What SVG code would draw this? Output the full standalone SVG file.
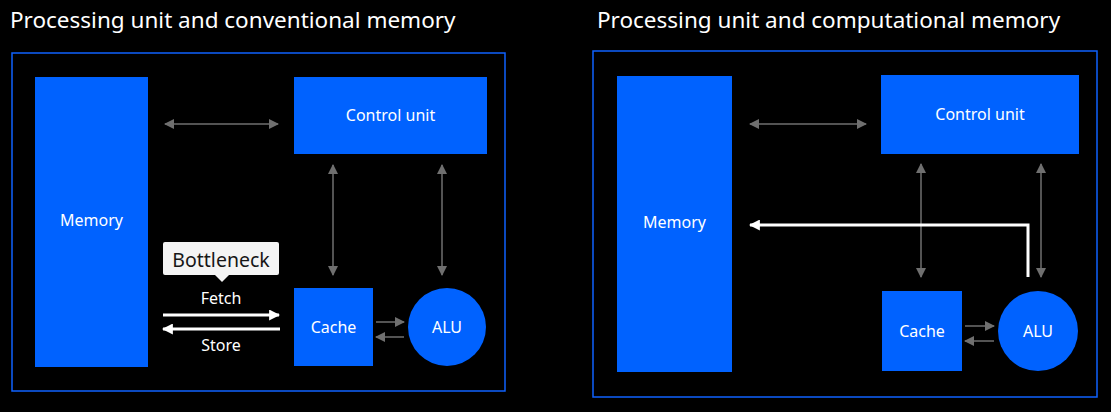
<svg xmlns="http://www.w3.org/2000/svg" width="1111" height="412" viewBox="0 0 1111 412">
<defs>
<style>
.title{font-family:"Noto Sans","Liberation Sans",sans-serif;font-size:22.5px;fill:#ffffff}
.frame{fill:none;stroke:#0f62fe;stroke-width:1.5}
.node{fill:#0062ff}
.lbl{font-family:"Noto Sans","Liberation Sans",sans-serif;font-size:16px;fill:#ffffff;text-anchor:middle;dominant-baseline:central}
.g{stroke:#6f6f6f;stroke-width:1.5;fill:none}
.w{stroke:#ffffff;stroke-width:3;fill:none}
</style>
<marker id="ga" viewBox="0 0 10 10" refX="9" refY="5" markerWidth="10" markerHeight="10" markerUnits="userSpaceOnUse" orient="auto-start-reverse"><path d="M0,0 L10,5 L0,10 z" fill="#6f6f6f"/></marker>
<marker id="wa" viewBox="0 0 10 10" refX="9" refY="5" markerWidth="11" markerHeight="11" markerUnits="userSpaceOnUse" orient="auto-start-reverse"><path d="M0,0 L10,5 L0,10 z" fill="#ffffff"/></marker>
</defs>
<rect width="1111" height="412" fill="#000000"/>
<text class="title" x="10" y="28">Processing unit and conventional memory</text>
<text class="title" x="597" y="28">Processing unit and computational memory</text>
<rect class="frame" x="12" y="53" width="493" height="338"/>
<rect class="frame" x="593" y="51" width="504" height="346"/>

<g id="connectors">
<line class="g" x1="165" y1="124" x2="278" y2="124" marker-start="url(#ga)" marker-end="url(#ga)"/>
<line class="g" x1="333" y1="165" x2="333" y2="275" marker-start="url(#ga)" marker-end="url(#ga)"/>
<line class="g" x1="442" y1="165" x2="442" y2="275" marker-start="url(#ga)" marker-end="url(#ga)"/>
<line class="g" x1="376" y1="322" x2="404" y2="322" marker-end="url(#ga)"/>
<line class="g" x1="404" y1="337" x2="376" y2="337" marker-end="url(#ga)"/>
<line class="w" x1="163" y1="315" x2="279" y2="315" stroke-width="2.5" marker-end="url(#wa)"/>
<line class="w" x1="280" y1="329" x2="163" y2="329" stroke-width="2.5" marker-end="url(#wa)"/>
<line class="g" x1="750" y1="124" x2="866" y2="124" marker-start="url(#ga)" marker-end="url(#ga)"/>
<line class="g" x1="921" y1="164" x2="921" y2="277" marker-start="url(#ga)" marker-end="url(#ga)"/>
<line class="g" x1="1041" y1="164" x2="1041" y2="277" marker-start="url(#ga)" marker-end="url(#ga)"/>
<line class="g" x1="965" y1="326" x2="994" y2="326" marker-end="url(#ga)"/>
<line class="g" x1="994" y1="341" x2="965" y2="341" marker-end="url(#ga)"/>
<polyline class="w" points="1028,277 1028,225 750,225" marker-end="url(#wa)"/>
</g>

<g id="bottleneck">
<rect x="163" y="242" width="116" height="33" rx="2" fill="#f4f4f4"/>
<path d="M215,275 L222,282 L229,275 z" fill="#f4f4f4"/>
<text x="221" y="259" font-family="Noto Sans, Liberation Sans, sans-serif" font-size="19.5" fill="#161616" text-anchor="middle" dominant-baseline="central">Bottleneck</text>
</g>
<text class="lbl" x="221" y="298">Fetch</text>
<text class="lbl" x="221" y="345">Store</text>

<g id="memory-left"><rect class="node" x="35" y="77" width="113" height="290"/><text class="lbl" x="91.5" y="220">Memory</text></g>
<g id="control-left"><rect class="node" x="294" y="77" width="193" height="77"/><text class="lbl" x="390.5" y="115">Control unit</text></g>
<g id="cache-left"><rect class="node" x="294" y="288" width="79" height="78"/><text class="lbl" x="333.5" y="327">Cache</text></g>
<g id="alu-left"><circle class="node" cx="447" cy="327" r="39"/><text class="lbl" x="447" y="327">ALU</text></g>

<g id="memory-right"><rect class="node" x="617" y="76" width="115" height="296"/><text class="lbl" x="674.5" y="222">Memory</text></g>
<g id="control-right"><rect class="node" x="881" y="75" width="198" height="79"/><text class="lbl" x="980" y="114">Control unit</text></g>
<g id="cache-right"><rect class="node" x="882" y="291" width="80" height="80"/><text class="lbl" x="922" y="331">Cache</text></g>
<g id="alu-right"><circle class="node" cx="1038" cy="331" r="40"/><text class="lbl" x="1038" y="331">ALU</text></g>
</svg>
